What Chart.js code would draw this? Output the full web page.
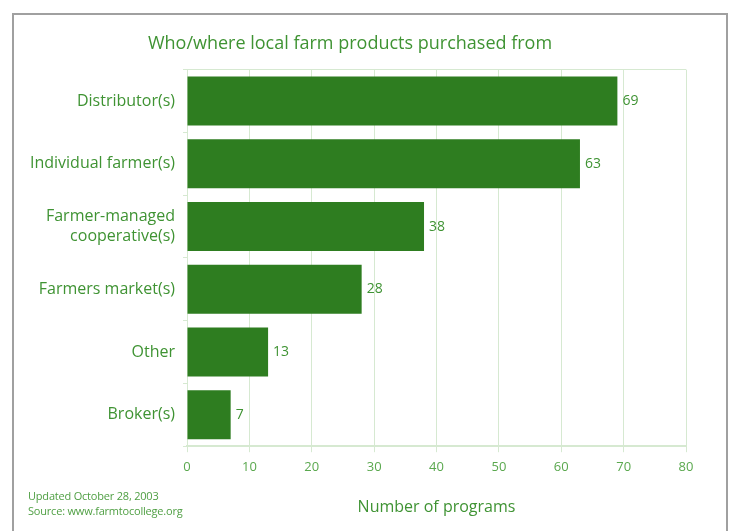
<!DOCTYPE html>
<html>
<head>
<meta charset="utf-8">
<script src="https://cdn.jsdelivr.net/npm/chart.js@4.4.1/dist/chart.umd.min.js"></script>
<style>
  html, body { margin: 0; padding: 0; background: #fff; overflow: hidden; }
  #frame {
    position: absolute; left: 12px; top: 13px; width: 712px; height: 540px;
    border: 2px solid #a0a0a0; border-bottom: none;
  }
  #wrap { position: absolute; left: 0; top: 0; width: 712px; height: 506px; }
  #note {
    position: absolute; left: 14px; top: 473px;
    font-family: "Open Sans", sans-serif; font-size: 11px; line-height: 15px; color: #4f9f43;
    letter-spacing: -0.2px;
  }
</style>
</head>
<body>
<div id="frame">
  <div id="wrap"><canvas id="chart"></canvas></div>
  <div id="note">Updated October 28, 2003<br>Source: www.farmtocollege.org</div>
</div>
<script>
// ----- Data -----
const categories = [
  "Distributor(s)",
  "Individual farmer(s)",
  ["Farmer-managed", "cooperative(s)"],
  "Farmers market(s)",
  "Other",
  "Broker(s)"
];
const programCounts = [69, 63, 38, 28, 13, 7];
const xTicks = [0, 10, 20, 30, 40, 50, 60, 70, 80];

const green = "#2e7d20";
const gridGreen = "#d6e9d1";
const textGreen = "#3f9333";
const fontFamily = "'Open Sans', sans-serif";

// ----- Value labels at bar ends -----
const valueLabels = {
  id: "valueLabels",
  afterDatasetsDraw(chart) {
    const ctx = chart.ctx;
    const meta = chart.getDatasetMeta(0);
    ctx.save();
    ctx.font = "14px " + fontFamily;
    ctx.fillStyle = textGreen;
    ctx.textBaseline = "middle";
    ctx.textAlign = "left";
    meta.data.forEach((bar, i) => {
      ctx.fillText(programCounts[i], bar.x + 5, bar.y);
    });
    ctx.restore();
  }
};

new Chart(document.getElementById("chart"), {
  type: "bar",
  data: {
    labels: categories,
    datasets: [{
      data: programCounts,
      backgroundColor: green,
      borderWidth: 0,
      barPercentage: 0.78,
      categoryPercentage: 1.0
    }]
  },
  options: {
    indexAxis: "y",
    responsive: true,
    maintainAspectRatio: false,
    animation: false,
    layout: { padding: { left: 0, right: 40, top: 0, bottom: 4 } },
    plugins: {
      legend: { display: false },
      tooltip: { enabled: false },
      title: {
        display: true,
        text: "Who/where local farm products purchased from",
        color: textGreen,
        font: { family: fontFamily, size: 18, weight: "normal" },
        padding: { top: 18, bottom: 15 }
      }
    },
    scales: {
      x: {
        min: 0,
        max: 80,
        afterBuildTicks(scale) {
          scale.ticks = xTicks.map(v => ({ value: v }));
        },
        grid: { color: gridGreen, lineWidth: 1, tickLength: 6, tickColor: gridGreen },
        border: { color: gridGreen, width: 2 },
        ticks: {
          color: "#5aa84e",
          font: { family: fontFamily, size: 13 },
          padding: 7
        },
        title: {
          display: true,
          text: "Number of programs",
          color: textGreen,
          font: { family: fontFamily, size: 16 },
          padding: { top: 16, bottom: 0 }
        }
      },
      y: {
        afterFit(scale) { scale.width = 173; },
        grid: {
          offset: true,
          color: ctx => (ctx.index === 0 || ctx.index === categories.length) ? gridGreen : "rgba(0,0,0,0)",
          tickColor: gridGreen,
          tickLength: 4,
          lineWidth: 1
        },
        border: { color: gridGreen, width: 1 },
        ticks: {
          color: textGreen,
          font: { family: fontFamily, size: 16, lineHeight: 1.3 },
          padding: 8
        }
      }
    }
  },
  plugins: [valueLabels]
});
</script>
</body>
</html>
